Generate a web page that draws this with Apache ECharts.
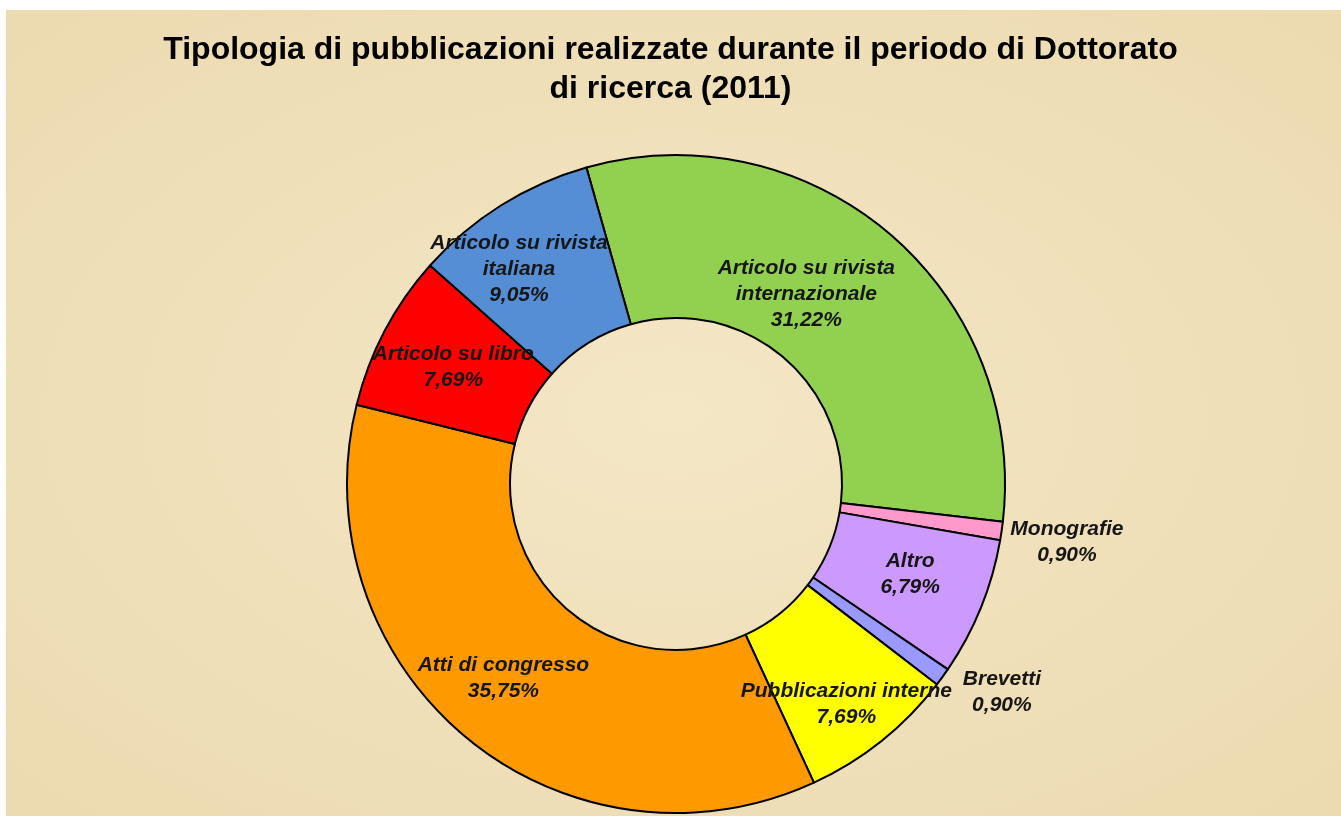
<!DOCTYPE html>
<html>
<head>
<meta charset="utf-8">
<script src="https://cdn.jsdelivr.net/npm/echarts@6/dist/echarts.min.js"></script>
<style>
  html, body { margin: 0; padding: 0; background: #ffffff; }
  #wrap {
    position: absolute; left: 6px; top: 10px; width: 1335px; height: 806px;
    background: radial-gradient(ellipse at 50% 50%, #f4e7c6 0%, #efdfb8 60%, #ecdab0 100%);
  }
  #chart { position: absolute; left: 0; top: 0; width: 1341px; height: 816px; }
</style>
</head>
<body>
<div id="wrap"></div>
<div id="chart"></div>
<script>
// categories clockwise from the top
const categories = [
  'Articolo su rivista\ninternazionale',
  'Monografie',
  'Altro',
  'Brevetti',
  'Pubblicazioni interne',
  'Atti di congresso',
  'Articolo su libro',
  'Articolo su rivista\nitaliana'
];
const percentages = [31.22, 0.90, 6.79, 0.90, 7.69, 35.75, 7.69, 9.05];
const colors = ['#92d050', '#ff99cc', '#cc99ff', '#9999ff', '#ffff00', '#ff9900', '#ff0000', '#558ed5'];

// small nudges so the labels sit where the original puts them
const labelOffsets = [[-32, 1], [143, 22], [2, -4], [123, 61], [14, 25], [-13, 1], [-1, 0], [-24, -3]];

const chart = echarts.init(document.getElementById('chart'), null, { renderer: 'canvas' });

const pieData = categories.map((name, i) => ({
  name: name,
  value: percentages[i],
  itemStyle: { color: colors[i] },
  label: { offset: labelOffsets[i] }
}));

const option = {
  backgroundColor: 'transparent',
  title: {
    text: 'Tipologia di pubblicazioni realizzate durante il periodo di Dottorato\ndi ricerca (2011)',
    left: 'center',
    top: 26,
    textStyle: {
      fontFamily: 'Liberation Sans, Arial, sans-serif',
      fontWeight: 'bold',
      fontSize: 32,
      lineHeight: 39,
      color: '#000000'
    }
  },
  series: [
    {
      type: 'pie',
      center: [676, 484],
      radius: [166, 329],
      startAngle: 105.8,
      clockwise: true,
      avoidLabelOverlap: false,
      data: pieData,
      itemStyle: { borderColor: '#000000', borderWidth: 2 },
      label: {
        show: true,
        position: 'inside',
        formatter: (p) => p.name + '\n' + p.value.toFixed(2).replace('.', ',') + '%',
        fontFamily: 'Liberation Sans, Arial, sans-serif',
        fontStyle: 'italic',
        fontWeight: 'bold',
        fontSize: 21,
        lineHeight: 26,
        color: '#161616',
        align: 'center'
      },
      labelLine: { show: false },
      emphasis: { disabled: true }
    }
  ]
};

chart.setOption(option);
</script>
</body>
</html>
